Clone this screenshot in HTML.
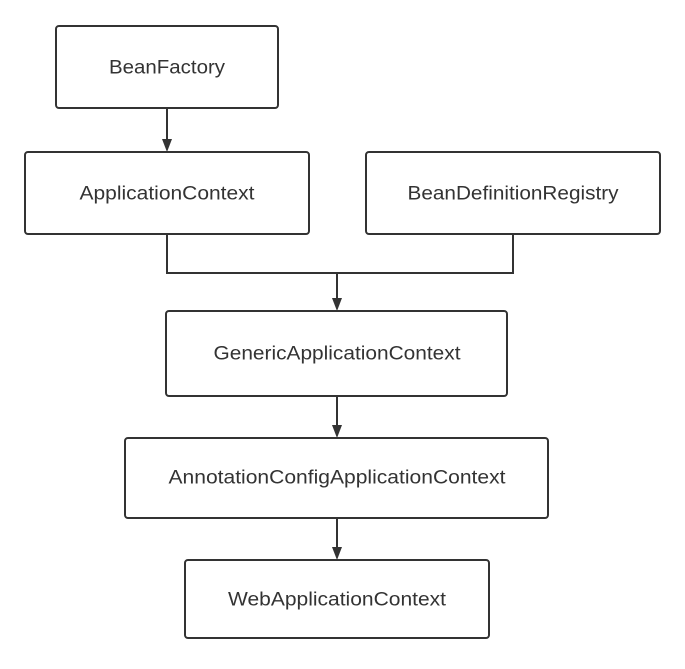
<!DOCTYPE html>
<html><head><style>
body{margin:0;width:685px;height:664px;background:#fff;overflow:hidden}
svg text{font-family:"Liberation Sans",sans-serif;font-size:19px;fill:#333;text-anchor:middle;dominant-baseline:central}
</style></head><body>
<svg width="685" height="664" xmlns="http://www.w3.org/2000/svg">
<g fill="#fff" stroke="#333" stroke-width="2">
<rect x="56" y="26" width="222" height="82" rx="3"/>
<rect x="25" y="152" width="284" height="82" rx="3"/>
<rect x="366" y="152" width="294" height="82" rx="3"/>
<rect x="166" y="311" width="341" height="85" rx="3"/>
<rect x="125" y="438" width="423" height="80" rx="3"/>
<rect x="185" y="560" width="304" height="78" rx="3"/>
</g>
<g fill="none" stroke="#333" stroke-width="2">
<path d="M167,108 V141"/>
<path d="M167,234 V273 H513 V234"/>
<path d="M337,273 V300"/>
<path d="M337,396 V427"/>
<path d="M337,518 V549"/>
</g>
<g fill="#333">
<path d="M162,139 L172,139 L167,152 z"/>
<path d="M332,298 L342,298 L337,311 z"/>
<path d="M332,425 L342,425 L337,438 z"/>
<path d="M332,547 L342,547 L337,560 z"/>
</g>
<text x="167" y="68" textLength="116" lengthAdjust="spacingAndGlyphs">BeanFactory</text>
<text x="167" y="194" textLength="175" lengthAdjust="spacingAndGlyphs">ApplicationContext</text>
<text x="513" y="194" textLength="211" lengthAdjust="spacingAndGlyphs">BeanDefinitionRegistry</text>
<text x="337" y="354" textLength="247" lengthAdjust="spacingAndGlyphs">GenericApplicationContext</text>
<text x="337" y="478" textLength="337" lengthAdjust="spacingAndGlyphs">AnnotationConfigApplicationContext</text>
<text x="337" y="600" textLength="218" lengthAdjust="spacingAndGlyphs">WebApplicationContext</text>
</svg>
</body></html>
